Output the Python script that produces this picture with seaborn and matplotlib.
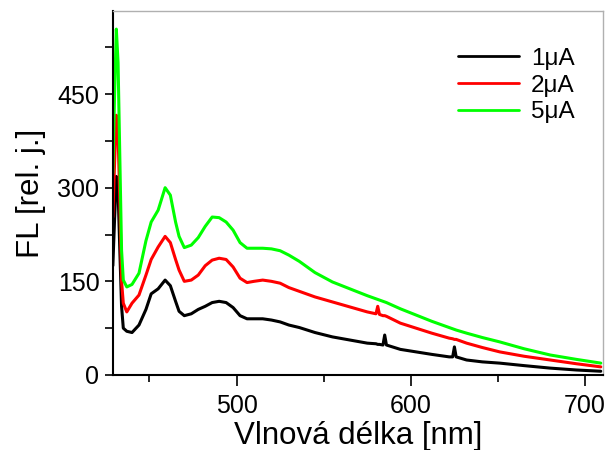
import matplotlib
matplotlib.use("Agg")
import matplotlib.pyplot as plt
import seaborn as sns
import pandas as pd
from matplotlib.ticker import MultipleLocator

wavelength = [429, 430, 431, 432, 433, 434, 435, 437, 440, 444, 448, 451, 455, 459, 462, 465, 467, 470,
              474, 478, 482, 486, 490, 494, 498, 502, 506, 510, 515, 520, 525, 530, 536, 545, 555, 565,
              575, 580, 581, 582, 584, 585, 586, 594, 603, 612, 622, 624, 625, 626, 632, 641, 651, 665,
              680, 695, 709]

fl_1uA = [175, 250, 318, 295, 200, 110, 75, 70, 68, 80, 105, 130, 138, 152, 143, 118, 102, 95,
          98, 105, 110, 116, 118, 116, 108, 95, 90, 90, 90, 88, 85, 80, 76, 68, 61, 56,
          51, 50, 49, 49, 48, 64, 48, 41, 37, 33, 29, 29, 45, 29, 24, 21, 19, 15,
          11, 8, 6]

fl_2uA = [253, 340, 416, 385, 280, 150, 115, 101, 115, 128, 160, 185, 205, 222, 212, 185, 168, 150,
          152, 160, 175, 184, 187, 185, 173, 155, 148, 150, 152, 150, 147, 140, 134, 125, 117, 109,
          101, 98, 110, 97, 95, 95, 94, 83, 75, 67, 59, 58, 57, 57, 51, 44, 37, 30,
          24, 18, 13]

fl_5uA = [323, 450, 554, 500, 350, 200, 152, 141, 145, 163, 215, 245, 264, 300, 288, 245, 222, 204,
          208, 220, 238, 253, 252, 245, 232, 212, 203, 203, 203, 202, 199, 192, 182, 164, 149, 138,
          127, 122, 121, 120, 118, 117, 116, 106, 96, 86, 76, 74, 73, 72, 67, 60, 53, 42,
          32, 25, 19]

series_labels = ["1μA", "2μA", "5μA"]
series_colors = ["#000000", "#ff0000", "#00ff00"]

frames = []
for lab, vals in zip(series_labels, [fl_1uA, fl_2uA, fl_5uA]):
    frames.append(pd.DataFrame({"wl": wavelength, "fl": vals, "proud": lab}))
df = pd.concat(frames, ignore_index=True)

sns.set_style("ticks")
plt.rcParams["font.family"] = ["Liberation Sans", "DejaVu Sans"]
plt.rcParams["text.color"] = "black"
plt.rcParams["axes.labelcolor"] = "black"

fig = plt.figure(figsize=(6.11, 4.5), dpi=100)
ax = fig.add_axes([0.1844, 0.1667, 0.8026, 0.8089])

sns.lineplot(data=df, x="wl", y="fl", hue="proud", palette=series_colors,
             hue_order=series_labels, linewidth=2.2, ax=ax, sort=True, estimator=None)

ax.set_xlim(428.9, 710.3)
ax.set_ylim(0, 583)
ax.xaxis.set_major_locator(MultipleLocator(100))
ax.xaxis.set_minor_locator(MultipleLocator(50))
ax.yaxis.set_major_locator(MultipleLocator(150))
ax.yaxis.set_minor_locator(MultipleLocator(75))

ax.tick_params(axis="both", which="both", direction="out", colors="black", labelsize=18, width=1.2)
ax.tick_params(axis="x", which="major", length=8, pad=6)
ax.tick_params(axis="x", which="minor", length=5)
ax.tick_params(axis="y", which="both", length=6)

for side in ["left", "bottom"]:
    ax.spines[side].set_color("black")
    ax.spines[side].set_linewidth(1.5)
for side in ["top", "right"]:
    ax.spines[side].set_visible(True)
    ax.spines[side].set_color("#b0b0b0")
    ax.spines[side].set_linewidth(1.0)

ax.set_xlabel("Vlnová délka [nm]", fontsize=22.5, labelpad=2, color="black")
ax.set_ylabel("FL [rel. j.]", fontsize=22.5, labelpad=8, color="black")

leg = ax.legend(loc="upper right", bbox_to_anchor=(1.0, 0.978), frameon=False, fontsize=17.5,
                handlelength=2.5, handletextpad=0.5, labelspacing=0.2, borderaxespad=0.78)
for txt in leg.get_texts():
    txt.set_color("black")
for line in leg.get_lines():
    line.set_linewidth(2.0)

fig.savefig("out.png", dpi=100)
